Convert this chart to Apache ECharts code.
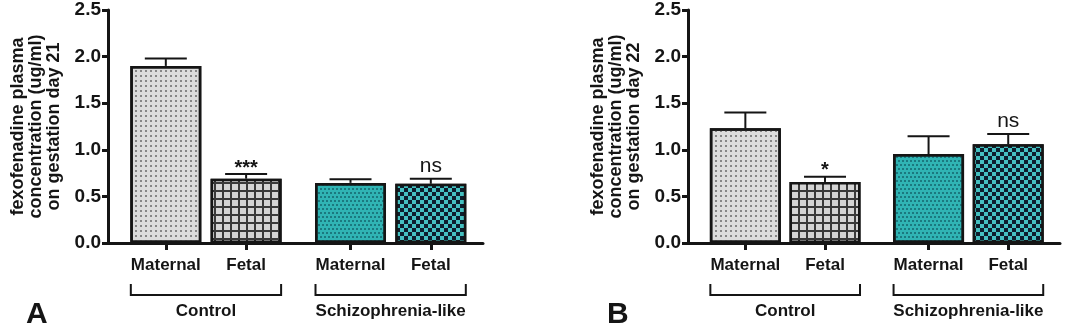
<!DOCTYPE html>
<html>
<head>
<meta charset="utf-8">
<script src="https://cdn.jsdelivr.net/npm/echarts@6/dist/echarts.min.js"></script>
<style>
html, body { margin: 0; padding: 0; background: #fff; }
#chart { width: 1065px; height: 331px; }
</style>
</head>
<body>
<div id="chart"></div>
<script>
const groups = ['Control', 'Schizophrenia-like'];
const samples = ['Maternal', 'Fetal'];
const yTicks = [0, 0.5, 1.0, 1.5, 2.0, 2.5];
// bar order: control maternal, control fetal, schizo maternal, schizo fetal
const day21Mean = [1.90, 0.69, 0.645, 0.635];
const day21Err = [0.08, 0.05, 0.04, 0.055];
const day21Sig = ['', '***', '', 'ns'];
const day22Mean = [1.23, 0.655, 0.955, 1.06];
const day22Err = [0.17, 0.055, 0.19, 0.11];
const day22Sig = ['', '*', '', 'ns'];
const panelLetters = ['A', 'B'];
const yNames = [
    'fexofenadine plasma\nconcentration (ug/ml)\non gestation day 21',
    'fexofenadine plasma\nconcentration (ug/ml)\non gestation day 22'
];

const FONT = "'Liberation Sans', Arial, sans-serif";
const INK = '#151515';

// position of a bar on the x value axis: groups sit a bit further apart than bars
const slot = k => Math.floor(k / 2) * 2.3 + (k % 2);
const slots = [0, 1, 2, 3].map(slot);

const barStyles = [
    { color: '#dcdcdc', decal: { symbol: 'rect', symbolSize: 1, color: 'rgba(95,95,95,0.7)', dashArrayX: [1.5, 2.5], dashArrayY: [1.5, 2.5] } },
    { color: '#3a3a3a', decal: { symbol: 'rect', symbolSize: 1, color: '#d4d4d4', dashArrayX: [5.6, 1.4], dashArrayY: [5.6, 1.4] } },
    { color: '#30b4b4', decal: { symbol: 'circle', symbolSize: 1, color: 'rgba(10,70,80,0.7)', dashArrayX: [[2, 2], [0, 2, 2, 0]], dashArrayY: [2, 1.5] } },
    { color: '#0d1e2c', decal: { symbol: 'rect', symbolSize: 1, color: '#45c0c0', dashArrayX: [[3.3, 3.3], [0, 3.3, 3.3, 0]], dashArrayY: [3.3, 0] } }
];

const panels = [
    { mean: day21Mean, err: day21Err, sig: day21Sig, grid: { left: 108, top: 10, width: 375, height: 233 } },
    { mean: day22Mean, err: day22Err, sig: day22Sig, grid: { left: 688, top: 10, width: 372, height: 233 } }
];

let grid = [], xAxis = [], yAxis = [], series = [], title = [];
panels.forEach((p, pi) => {
    grid.push(p.grid);
    xAxis.push({
        type: 'value',
        gridIndex: pi,
        min: -0.72,
        max: 3.95,
        splitLine: { show: false },
        axisLine: { show: true, onZero: false, lineStyle: { color: INK, width: 3 } },
        axisTick: { show: true, customValues: slots, length: 7, lineStyle: { color: INK, width: 3 } },
        axisLabel: {
            customValues: slots,
            margin: 14,
            fontFamily: FONT, fontSize: 17, fontWeight: 'bold', color: INK,
            formatter: v => {
                let i = slots.findIndex(s => Math.abs(s - v) < 1e-6);
                return i < 0 ? '' : samples[i % 2];
            }
        }
    });
    yAxis.push({
        type: 'value',
        gridIndex: pi,
        min: yTicks[0],
        max: yTicks[yTicks.length - 1],
        interval: 0.5,
        splitLine: { show: false },
        axisLine: { show: true, onZero: false, lineStyle: { color: INK, width: 3 } },
        axisTick: { show: true, length: 6, lineStyle: { color: INK, width: 3 } },
        axisLabel: {
            margin: 7,
            fontFamily: FONT, fontSize: 19, fontWeight: 'bold', color: INK,
            formatter: v => v.toFixed(1)
        },
        name: yNames[pi],
        nameLocation: 'middle',
        nameGap: 45,
        nameTextStyle: { fontFamily: FONT, fontSize: 18, fontWeight: 'bold', color: INK, lineHeight: 18 }
    });
    series.push({
        type: 'bar',
        xAxisIndex: pi,
        yAxisIndex: pi,
        barWidth: 71,
        silent: true,
        data: p.mean.map((m, k) => ({
            value: [slot(k), m],
            itemStyle: Object.assign({ borderColor: INK, borderWidth: 2.5 }, barStyles[k])
        }))
    });
    // error bars (upper only) plus significance marks
    series.push({
        type: 'custom',
        xAxisIndex: pi,
        yAxisIndex: pi,
        silent: true,
        z: 1,
        clip: false,
        data: p.mean.map((m, k) => [slot(k), m, m + p.err[k]]),
        renderItem: (params, api) => {
            let base = api.coord([api.value(0), api.value(1)]);
            let top = api.coord([api.value(0), api.value(2)]);
            let sig = p.sig[params.dataIndex];
            let style = { stroke: INK, lineWidth: 2 };
            let children = [
                { type: 'line', shape: { x1: base[0], y1: base[1], x2: top[0], y2: top[1] }, style },
                { type: 'line', shape: { x1: top[0] - 21, y1: top[1], x2: top[0] + 21, y2: top[1] }, style }
            ];
            if (sig) {
                children.push({
                    type: 'text',
                    x: top[0], y: top[1] - (sig === 'ns' ? 2 : -4),
                    style: {
                        text: sig, align: 'center', verticalAlign: 'bottom',
                        fontFamily: FONT, fontSize: sig === 'ns' ? 21 : 20, fontWeight: sig === 'ns' ? 'normal' : 'bold',
                        fill: INK
                    }
                });
            }
            return { type: 'group', children };
        }
    });
    // group brackets under the axis
    series.push({
        type: 'custom',
        xAxisIndex: pi,
        yAxisIndex: pi,
        silent: true,
        clip: false,
        data: groups.map((g, gi) => [slot(gi * 2), slot(gi * 2 + 1)]),
        renderItem: (params, api) => {
            let x1 = api.coord([api.value(0), 0])[0] - 35;
            let x2 = api.coord([api.value(1), 0])[0] + 35;
            let y0 = api.coord([0, 0])[1];
            let style = { stroke: INK, lineWidth: 2, fill: 'none' };
            return {
                type: 'group',
                children: [
                    { type: 'polyline', shape: { points: [[x1, y0 + 41], [x1, y0 + 52], [x2, y0 + 52], [x2, y0 + 41]] }, style },
                    {
                        type: 'text', x: (x1 + x2) / 2, y: y0 + 60,
                        style: {
                            text: groups[params.dataIndex], align: 'center', verticalAlign: 'top',
                            fontFamily: FONT, fontSize: 17, fontWeight: 'bold', fill: INK
                        }
                    }
                ]
            };
        }
    });
    title.push({
        text: panelLetters[pi],
        left: pi === 0 ? 26 : 607,
        top: 300,
        padding: 0,
        textStyle: { fontFamily: FONT, fontSize: 30, fontWeight: 'bold', color: INK }
    });
});

const myChart = echarts.init(document.getElementById('chart'), null, { renderer: 'canvas' });
myChart.setOption({
    animation: false,
    backgroundColor: '#fff',
    title,
    grid,
    xAxis,
    yAxis,
    series
});
</script>
</body>
</html>
